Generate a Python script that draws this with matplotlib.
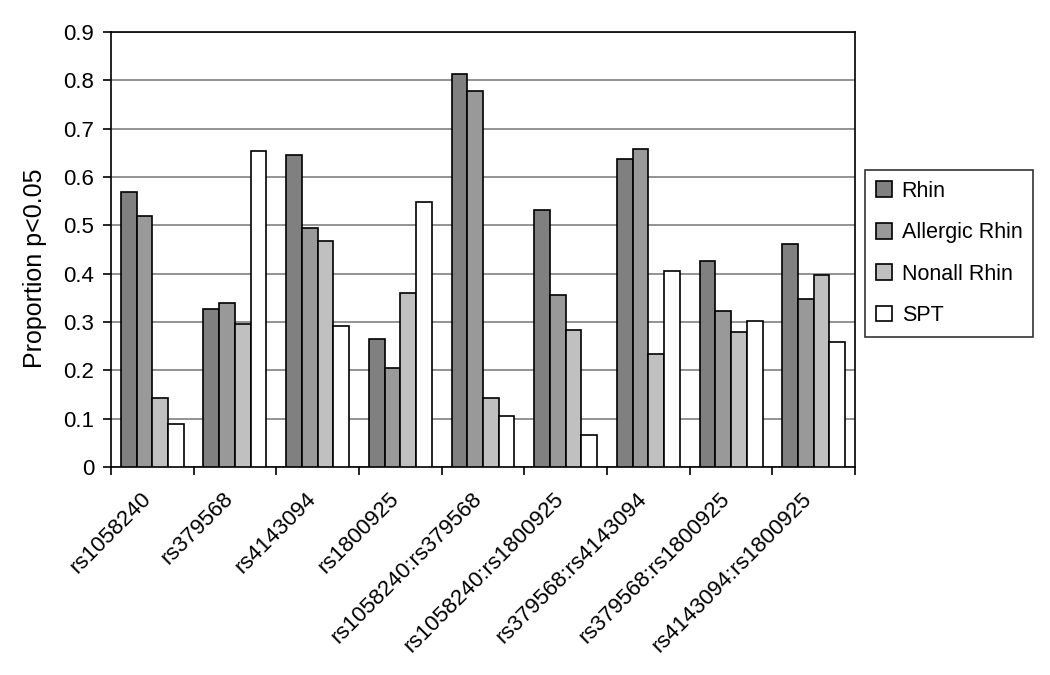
import numpy as np
import matplotlib
matplotlib.use("Agg")
import matplotlib.pyplot as plt
import matplotlib.transforms as mtransforms

plt.rcParams['font.family'] = ['Liberation Sans', 'DejaVu Sans']

# SNP / SNP-pair categories
categories = ['rs1058240', 'rs379568', 'rs4143094', 'rs1800925',
              'rs1058240:rs379568', 'rs1058240:rs1800925',
              'rs379568:rs4143094', 'rs379568:rs1800925',
              'rs4143094:rs1800925']

# proportion of p<0.05
rhin = [0.569, 0.328, 0.646, 0.266, 0.814, 0.532, 0.638, 0.426, 0.462]
allergic_rhin = [0.519, 0.340, 0.495, 0.204, 0.778, 0.357, 0.659, 0.323, 0.348]
nonall_rhin = [0.143, 0.295, 0.467, 0.361, 0.143, 0.283, 0.233, 0.279, 0.397]
spt = [0.090, 0.654, 0.291, 0.548, 0.106, 0.066, 0.405, 0.303, 0.259]

series = [('Rhin', rhin, '#808080'),
          ('Allergic Rhin', allergic_rhin, '#999999'),
          ('Nonall Rhin', nonall_rhin, '#c0c0c0'),
          ('SPT', spt, '#ffffff')]

fig = plt.figure(figsize=(10.5, 6.75), dpi=100)
ax = fig.add_axes([0.1057, 0.308, 0.7086, 0.6446])

x = np.arange(len(categories))
w = 1.0 / (len(series) + 1.25)
for i, (name, vals, col) in enumerate(series):
    off = (i - 1.5) * w
    ax.bar(x + off, vals, width=w, color=col, edgecolor='black',
           linewidth=1.2, label=name, zorder=3)

ax.set_xlim(-0.5, len(categories) - 0.5)
ax.set_ylim(0, 0.9)
ax.set_yticks(np.arange(0, 0.91, 0.1))
ax.set_yticklabels(['0'] + ['%.1f' % v for v in np.arange(0.1, 0.91, 0.1)])
ax.yaxis.grid(True, color='#808080', linewidth=1.2, zorder=0)

# ticks at category boundaries, labels at centres
ax.set_xticks(np.arange(-0.5, len(categories), 1.0))
ax.set_xticklabels([])
ax.set_xticks(x, minor=True)
ax.set_xticklabels(categories, minor=True, rotation=45, ha='right',
                   va='top', rotation_mode='anchor', fontsize=16)
ax.tick_params(axis='x', which='minor', length=0, pad=8)
ax.tick_params(axis='both', which='major', direction='out', length=6,
               width=1.2, labelsize=16)
ax.tick_params(axis='y', pad=6)

# nudge the slanted labels down-left a little
shift = mtransforms.ScaledTranslation(-12 / 100, -10 / 100, fig.dpi_scale_trans)
for lab in ax.get_xticklabels(minor=True):
    lab.set_transform(lab.get_transform() + shift)

for s in ax.spines.values():
    s.set_linewidth(1.2)
    s.set_color('black')

ax.set_ylabel('Proportion p<0.05', fontsize=18)
ax.yaxis.set_label_coords(-0.086, 0.457)

leg = fig.legend(loc='upper left', bbox_to_anchor=(865 / 1050, 1 - 170 / 675),
                 fontsize=15.5, frameon=True, fancybox=False,
                 edgecolor='black', handlelength=0.75, handleheight=0.75,
                 labelspacing=0.95, borderpad=0.5, handletextpad=0.45,
                 borderaxespad=0)
leg.get_frame().set_linewidth(1.2)

fig.savefig('out.png', dpi=100)
